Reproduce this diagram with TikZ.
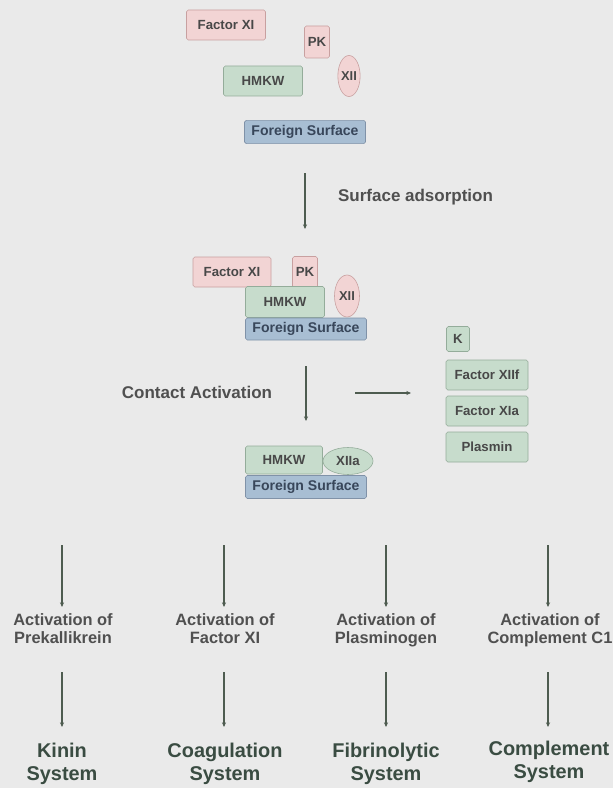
\documentclass[tikz,border=0pt]{standalone}
\usepackage{fontspec}
\setmainfont{Liberation Sans}
\usetikzlibrary{shapes.geometric,arrows.meta}

\definecolor{bgray}{RGB}{234,234,234}
\definecolor{pinkfill}{RGB}{242,212,212}
\definecolor{pinkline}{RGB}{200,160,160}
\definecolor{greenfill}{RGB}{199,220,204}
\definecolor{greenline}{RGB}{148,172,154}
\definecolor{bluefill}{RGB}{168,190,211}
\definecolor{blueline}{RGB}{128,146,168}
\definecolor{boxtext}{RGB}{72,72,72}
\definecolor{labtext}{RGB}{80,80,80}
\definecolor{systext}{RGB}{58,76,66}
\definecolor{arrowcol}{RGB}{78,92,80}

\tikzset{
  box/.style={draw, line width=0.5pt, rounded corners=1.5pt, inner sep=0pt,
    font=\fontsize{11.3}{12}\selectfont\bfseries, text=boxtext},
  pinkbox/.style={box, fill=pinkfill, draw=pinkline},
  greenbox/.style={box, fill=greenfill, draw=greenline},
  surfbox/.style={box, fill=bluefill, draw=blueline, text={rgb,255:red,56;green,70;blue,90},
    font=\fontsize{12}{13}\selectfont\bfseries,
    minimum width=3.63cm, minimum height=0.7cm},
  pinkoval/.style={ellipse, draw=pinkline, fill=pinkfill, line width=0.5pt, inner sep=0pt,
    font=\fontsize{11}{12}\selectfont\bfseries, text=boxtext},
  steplabel/.style={font=\fontsize{14.5}{15.5}\selectfont\bfseries, text=labtext},
  actlabel/.style={anchor=north, inner sep=0pt, font=\fontsize{14}{15.3}\selectfont\bfseries,
    text=labtext, align=center},
  syslabel/.style={anchor=north, inner sep=0pt, font=\fontsize{17}{19.5}\selectfont\bfseries,
    text=systext, align=center},
  flow/.style={draw=arrowcol, line width=1pt, -{Stealth[length=4pt,width=3.5pt]}}
}

\begin{document}
\begin{tikzpicture}[x=0.03cm, y=-0.03cm]
        \useasboundingbox[fill=bgray] (0,0) rectangle (613,788);
        % before adsorption
        \node[pinkbox, minimum width=2.37cm, minimum height=0.9cm] (fxi1) at (226,25) {Factor XI};
        \node[pinkbox, minimum width=0.75cm, minimum height=0.96cm] (pk1) at (317,42) {PK};
        \node[greenbox, minimum width=2.37cm, minimum height=0.9cm] (hmkw1) at (263,81) {HMKW};
        \node[pinkoval, minimum width=0.66cm, minimum height=1.23cm] (xii1) at (349,76) {XII};
        \node[surfbox] (fs1) at (305,132) {Foreign Surface};
        \coordinate (a1s) at (305,173);
        \coordinate (a1e) at (305,229);
        \draw[flow] (a1s) -- (a1e);
        \node[steplabel, anchor=west] (adsorb) at (334,197) {Surface adsorption};
        % adsorbed complex
        \node[pinkbox, minimum width=2.34cm, minimum height=0.9cm] (fxi2) at (232,272) {Factor XI};
        \node[pinkbox, minimum width=0.75cm, minimum height=0.93cm] (pk2) at (305,272) {PK};
        \node[greenbox, minimum width=2.37cm, minimum height=0.93cm] (hmkw2) at (285,302) {HMKW};
        \node[pinkoval, minimum width=0.75cm, minimum height=1.26cm] (xii2) at (347,296) {XII};
        \node[surfbox, minimum height=0.66cm] (fs2) at (306,329) {Foreign Surface};
        \coordinate (a2s) at (306,366);
        \coordinate (a2e) at (306,421);
        \draw[flow] (a2s) -- (a2e);
        \node[steplabel] (contact) at (197,392) {Contact Activation};
        \coordinate (h1s) at (355,393);
        \coordinate (h1e) at (411,393);
        \draw[flow] (h1s) -- (h1e);
        % products
        \node[greenbox, minimum width=0.69cm, minimum height=0.75cm] (k) at (458,339) {K};
        \node[greenbox, minimum width=2.46cm, minimum height=0.9cm] (xiif) at (487,375) {Factor XIIf};
        \node[greenbox, minimum width=2.46cm, minimum height=0.9cm] (xia) at (487,411) {Factor XIa};
        \node[greenbox, minimum width=2.46cm, minimum height=0.9cm] (plasmin) at (487,447) {Plasmin};
        % activated complex
        \node[greenbox, minimum width=2.31cm, minimum height=0.84cm] (hmkw3) at (284,460) {HMKW};
        \node[greenbox, ellipse, rounded corners=0pt, minimum width=1.5cm, minimum height=0.81cm] (xiia) at (348,461) {XIIa};
        \node[surfbox, minimum height=0.69cm] (fs3) at (306,487) {Foreign Surface};
        % four systems
        \coordinate (b1s) at (62,545);
        \coordinate (b1e) at (62,607);
        \coordinate (b2s) at (224,545);
        \coordinate (b2e) at (224,607);
        \coordinate (b3s) at (386,545);
        \coordinate (b3e) at (386,607);
        \coordinate (b4s) at (548,545);
        \coordinate (b4e) at (548,607);
        \draw[flow] (b1s) -- (b1e);
        \draw[flow] (b2s) -- (b2e);
        \draw[flow] (b3s) -- (b3e);
        \draw[flow] (b4s) -- (b4e);
        \node[actlabel] (actpk) at (63,613) {Activation of\\Prekallikrein};
        \node[actlabel] (actxi) at (225,613) {Activation of\\Factor XI};
        \node[actlabel] (actpl) at (386,613) {Activation of\\Plasminogen};
        \node[actlabel] (actc1) at (550,613) {Activation of\\Complement C1};
        \coordinate (c1s) at (62,672);
        \coordinate (c1e) at (62,727);
        \coordinate (c2s) at (224,672);
        \coordinate (c2e) at (224,727);
        \coordinate (c3s) at (386,672);
        \coordinate (c3e) at (386,727);
        \coordinate (c4s) at (548,672);
        \coordinate (c4e) at (548,727);
        \draw[flow] (c1s) -- (c1e);
        \draw[flow] (c2s) -- (c2e);
        \draw[flow] (c3s) -- (c3e);
        \draw[flow] (c4s) -- (c4e);
        \node[syslabel] (kinin) at (62,743) {Kinin\\System};
        \node[syslabel] (coag) at (225,743) {Coagulation\\System};
        \node[syslabel] (fibrin) at (386,743) {Fibrinolytic\\System};
        \node[syslabel] (compl) at (549,741) {Complement\\System};
    \end{tikzpicture}
\end{document}
